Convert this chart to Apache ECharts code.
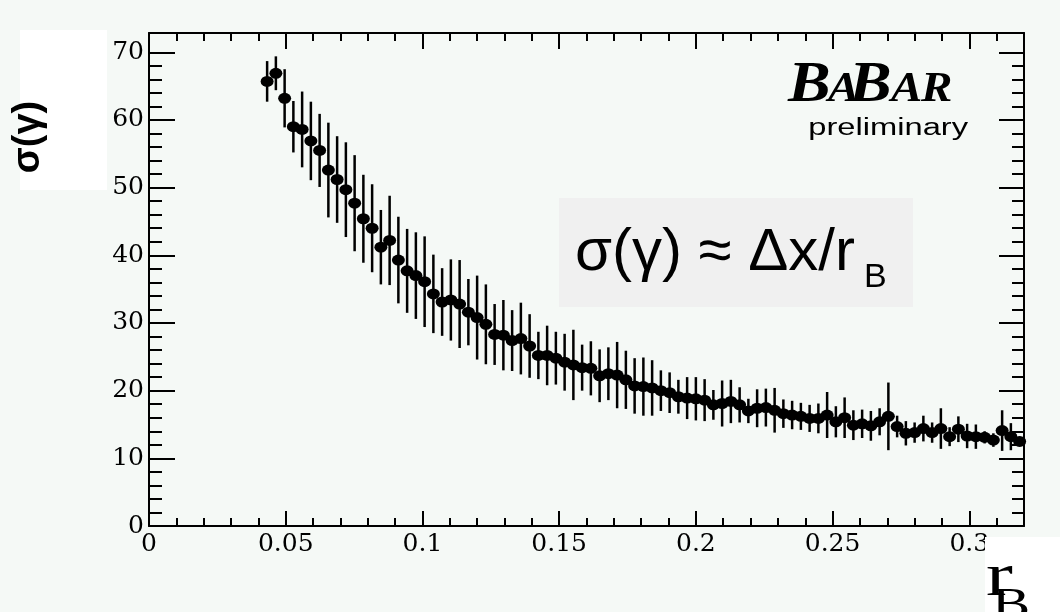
<!DOCTYPE html>
<html>
<head>
<meta charset="utf-8">
<script src="https://cdn.jsdelivr.net/npm/echarts@6/dist/echarts.min.js"></script>
<style>
  html, body { margin: 0; padding: 0; background: #f5f9f6; }
  #chart { width: 1060px; height: 612px; }
</style>
</head>
<body>
<div id="chart"></div>
<script>
// Resolution sigma(gamma) versus r_B, one point per bin (bin width 0.0032)
const rB = [
  0.0432, 0.0464, 0.0496, 0.0528, 0.0560, 0.0592, 0.0624, 0.0656, 0.0688, 0.0720,
  0.0752, 0.0784, 0.0816, 0.0848, 0.0880, 0.0912, 0.0944, 0.0976, 0.1008, 0.1040,
  0.1072, 0.1104, 0.1136, 0.1168, 0.1200, 0.1232, 0.1264, 0.1296, 0.1328, 0.1360,
  0.1392, 0.1424, 0.1456, 0.1488, 0.1520, 0.1552, 0.1584, 0.1616, 0.1648, 0.1680,
  0.1712, 0.1744, 0.1776, 0.1808, 0.1840, 0.1872, 0.1904, 0.1936, 0.1968, 0.2000,
  0.2032, 0.2064, 0.2096, 0.2128, 0.2160, 0.2192, 0.2224, 0.2256, 0.2288, 0.2320,
  0.2352, 0.2384, 0.2416, 0.2448, 0.2480, 0.2512, 0.2544, 0.2576, 0.2608, 0.2640,
  0.2672, 0.2704, 0.2736, 0.2768, 0.2800, 0.2832, 0.2864, 0.2896, 0.2928, 0.2960,
  0.2992, 0.3024, 0.3056, 0.3088, 0.3120, 0.3152, 0.3184
];
const sigma = [
  65.7, 66.9, 63.2, 59.0, 58.6, 56.9, 55.5, 52.6, 51.2, 49.7,
  47.7, 45.4, 44.0, 41.2, 42.2, 39.3, 37.7, 37.0, 36.1, 34.3,
  33.1, 33.4, 32.8, 31.6, 30.8, 29.8, 28.3, 28.2, 27.4, 27.7,
  26.6, 25.2, 25.2, 24.8, 24.2, 23.8, 23.4, 23.3, 22.2, 22.5,
  22.3, 21.6, 20.7, 20.6, 20.4, 20.0, 19.7, 19.1, 18.9, 18.8,
  18.6, 17.9, 18.1, 18.4, 17.9, 17.0, 17.4, 17.5, 17.1, 16.6,
  16.4, 16.2, 15.9, 15.9, 16.4, 15.4, 16.0, 14.9, 15.1, 14.8,
  15.4, 16.2, 14.7, 13.7, 13.8, 14.4, 13.8, 14.4, 13.2, 14.3,
  13.3, 13.2, 13.1, 12.7, 14.1, 13.2, 12.5
];
const sigmaErr = [
  3.0, 2.5, 4.3, 3.8, 5.6, 5.8, 5.4, 7.0, 6.4, 7.0,
  7.1, 6.5, 6.5, 5.5, 6.6, 6.4, 6.2, 6.4, 6.7, 5.8,
  5.0, 6.0, 6.5, 4.9, 6.2, 5.9, 4.5, 5.2, 4.5, 5.3,
  4.7, 3.5, 4.4, 3.9, 4.2, 5.2, 3.4, 4.0, 3.9, 3.9,
  4.9, 4.3, 4.1, 4.3, 4.1, 3.0, 3.0, 2.5, 3.1, 3.2,
  3.1, 2.2, 3.4, 3.2, 2.6, 1.8, 2.8, 2.8, 3.3, 2.1,
  2.1, 2.0, 2.0, 2.2, 3.4, 2.3, 3.0, 2.2, 2.1, 2.2,
  2.0, 5.0, 1.6, 1.8, 1.5, 1.9, 1.5, 3.0, 1.4, 1.9,
  1.8, 1.8, 0.9, 1.0, 3.0, 2.0, 0.7
];

// Axis ticks and labels
const xTicks = [0, 0.05, 0.1, 0.15, 0.2, 0.25, 0.3];
const xTickLabels = ['0', '0.05', '0.1', '0.15', '0.2', '0.25', '0.3'];
const xMinorTicks = [
  0.01, 0.02, 0.03, 0.04, 0.06, 0.07, 0.08, 0.09, 0.11, 0.12, 0.13, 0.14,
  0.16, 0.17, 0.18, 0.19, 0.21, 0.22, 0.23, 0.24, 0.26, 0.27, 0.28, 0.29, 0.31
];
const yTicks = [0, 10, 20, 30, 40, 50, 60, 70];
const yTickLabels = ['0', '10', '20', '30', '40', '50', '60', '70'];
const yMinorTicks = [
  2, 4, 6, 8, 12, 14, 16, 18, 22, 24, 26, 28, 32, 34, 36, 38,
  42, 44, 46, 48, 52, 54, 56, 58, 62, 64, 66, 68
];

const X_MAX = 0.32;
const Y_MAX = 72.85;
const INK = '#000';
const SERIF = '"Liberation Serif", "Times New Roman", serif';
const SANS = '"Liberation Sans", Arial, sans-serif';
const TICK_FONT = '"DejaVu Serif", serif';

function xAxisDef(position, values, tickLen, withLine, withLabels) {
  return {
    type: 'value', position: position, min: 0, max: X_MAX,
    axisLine: { show: withLine, onZero: false, lineStyle: { color: INK, width: 2 } },
    axisTick: { show: true, inside: true, length: tickLen, customValues: values,
                lineStyle: { color: INK, width: 2 } },
    axisLabel: withLabels ? {
      show: true, customValues: values, margin: 6, color: INK,
      fontFamily: TICK_FONT, fontSize: 25,
      formatter: function (v) { const i = xTicks.indexOf(v); return i >= 0 ? xTickLabels[i] : ''; }
    } : { show: false },
    splitLine: { show: false }
  };
}
function yAxisDef(position, values, tickLen, withLine, withLabels) {
  return {
    type: 'value', position: position, min: 0, max: Y_MAX,
    axisLine: { show: withLine, onZero: false, lineStyle: { color: INK, width: 2 } },
    axisTick: { show: true, inside: true, length: tickLen, customValues: values,
                lineStyle: { color: INK, width: 2 } },
    axisLabel: withLabels ? {
      show: true, customValues: values, margin: 5, color: INK,
      fontFamily: TICK_FONT, fontSize: 25,
      formatter: function (v) { const i = yTicks.indexOf(v); return i >= 0 ? yTickLabels[i] : ''; }
    } : { show: false },
    splitLine: { show: false }
  };
}

const points = rB.map((x, i) => [x, sigma[i], sigmaErr[i]]);

function logoLetter(ch, x, big) {
  return {
    type: 'text', z: 11, x: x, y: big ? 86 : 90.5, scaleX: 1.12,
    style: { text: ch, font: 'italic bold ' + (big ? 57 : 42) + 'px ' + SERIF, fill: INK,
             align: 'left', verticalAlign: 'middle' }
  };
}

const chart = echarts.init(document.getElementById('chart'), null, { renderer: 'canvas' });
chart.setOption({
  backgroundColor: '#f5f9f6',
  animation: false,
  grid: { left: 149, right: 36, top: 33, bottom: 86, containLabel: false },
  xAxis: [
    xAxisDef('bottom', xTicks, 15, true, true),
    xAxisDef('bottom', xMinorTicks, 8, false, false),
    xAxisDef('top', xTicks, 16, true, false),
    xAxisDef('top', xMinorTicks, 8, false, false)
  ],
  yAxis: [
    yAxisDef('left', yTicks, 26, true, true),
    yAxisDef('left', yMinorTicks, 13, false, false),
    yAxisDef('right', yTicks, 25, true, false),
    yAxisDef('right', yMinorTicks, 12, false, false)
  ],
  series: [
    {
      // vertical error bars
      type: 'custom',
      xAxisIndex: 0, yAxisIndex: 0,
      data: points,
      encode: { x: 0, y: 1 },
      renderItem: function (params, api) {
        const x = api.value(0), y = api.value(1), e = api.value(2);
        const lo = api.coord([x, y - e]);
        const hi = api.coord([x, y + e]);
        return {
          type: 'line',
          shape: { x1: lo[0], y1: lo[1], x2: hi[0], y2: hi[1] },
          style: { stroke: INK, lineWidth: 2.5, opacity: 1 }
        };
      },
      z: 2
    },
    {
      type: 'scatter',
      xAxisIndex: 0, yAxisIndex: 0,
      data: points.map(p => [p[0], p[1]]),
      symbol: 'circle',
      symbolSize: [13, 11],
      itemStyle: { color: INK, opacity: 1 },
      z: 3
    }
  ],
  graphic: [
    // formula panel
    { type: 'rect', z: 10, shape: { x: 559, y: 198, width: 354, height: 109 },
      style: { fill: '#f0f0f0' } },
    { type: 'text', z: 11, x: 575, y: 253,
      style: { text: 'σ(γ) ≈ Δx/r', font: '60px ' + SANS, fill: INK,
               align: 'left', verticalAlign: 'middle' } },
    { type: 'text', z: 11, x: 864, y: 278,
      style: { text: 'B', font: '34px ' + SANS, fill: INK,
               align: 'left', verticalAlign: 'middle' } },

    // experiment logo
    logoLetter('B', 788, true),
    logoLetter('A', 828, false),
    logoLetter('B', 849, true),
    logoLetter('A', 891, false),
    logoLetter('R', 921, false),
    { type: 'text', z: 11, x: 968, y: 129, scaleX: 1.42,
      style: { text: 'preliminary', font: '23px ' + SANS, fill: INK, align: 'right', verticalAlign: 'middle' } },

    // y-axis title panel
    { type: 'rect', z: 10, shape: { x: 20, y: 30, width: 87, height: 160 }, style: { fill: '#ffffff' } },
    { type: 'text', z: 11, x: 29, y: 137, rotation: Math.PI / 2,
      style: { text: 'σ(γ)', font: 'bold 38px ' + SANS, fill: INK, align: 'center', verticalAlign: 'middle' } },

    // x-axis title panel
    { type: 'rect', z: 10, shape: { x: 985, y: 537, width: 75, height: 75 }, style: { fill: '#ffffff' } },
    { type: 'text', z: 11, x: 986, y: 579, scaleX: 1.3,
      style: { text: 'r', font: '62px ' + SERIF, fill: INK, align: 'left', verticalAlign: 'middle' } },
    { type: 'text', z: 11, x: 992, y: 606, scaleX: 1.3,
      style: { text: 'B', font: '44px ' + SERIF, fill: INK, align: 'left', verticalAlign: 'middle' } }
  ]
});
</script>
</body>
</html>
